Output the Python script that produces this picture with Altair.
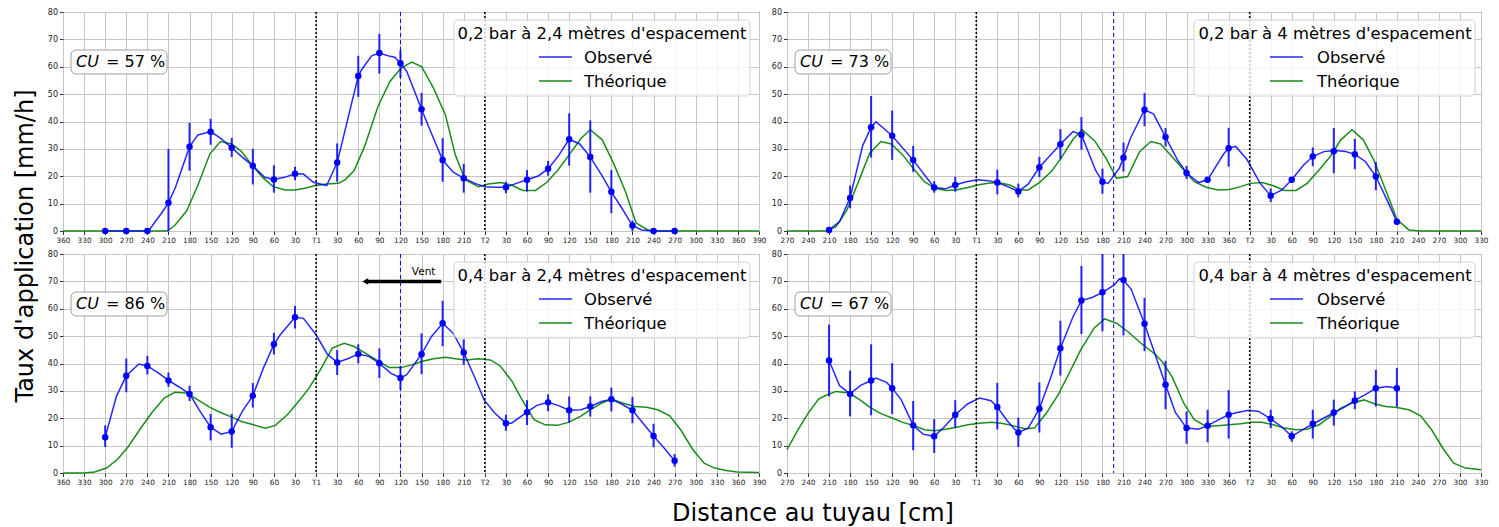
import altair as alt
import pandas as pd

# ---------------- tick labels ----------------
ticks_24 = ["360", "330", "300", "270", "240", "210", "180", "150", "120", "90", "60", "30", "T1",
            "30", "60", "90", "120", "150", "180", "210", "T2",
            "30", "60", "90", "120", "150", "180", "210", "240", "270", "300", "330", "360", "390"]
ticks_4 = ["270", "240", "210", "180", "150", "120", "90", "60", "30", "T1",
           "30", "60", "90", "120", "150", "180", "210", "240", "270", "300", "330", "360", "T2",
           "30", "60", "90", "120", "150", "180", "210", "240", "270", "300", "330"]
y_ticks = [0, 10, 20, 30, 40, 50, 60, 70, 80]

# ---------------- panel 1 : 0,2 bar à 2,4 m ----------------
p1_obs_x = [60, 90, 120, 123, 140, 150, 160, 180, 192, 210, 224, 240, 255, 270, 287, 300, 315, 330, 342, 356,
            375, 390, 420, 425, 439, 450, 465, 472, 480, 489, 510, 525, 540, 555, 570, 586, 600, 615, 630, 643,
            660, 676, 690, 704, 720, 735, 750, 766, 780, 795, 810, 823, 840, 870]
p1_obs_y = [0, 0, 0, 0.5, 6.5, 10.3, 16, 30.8, 35.1, 36.3, 33.9, 30.4, 27, 23.8, 19.6, 18.8, 19.6, 20.9, 20.8, 17.8,
            16.6, 25, 56.6, 59, 64, 65, 63.8, 63.5, 61.3, 58.3, 44.5, 35.1, 25.9, 21.5, 19.3, 17.4, 16.2, 16, 16, 17.2,
            18.7, 20.1, 22.7, 27.2, 33.5, 31.8, 27, 20.5, 14.3, 8.3, 2, 0.4, 0, 0]
p1_theo_x = [0, 148, 159, 176, 192, 209, 224, 240, 254, 269, 285, 299, 316, 330, 344, 359, 375, 392, 401, 414,
             429, 448, 465, 481, 496, 510, 527, 544, 558, 572, 591, 605, 623, 638, 654, 672, 688, 704, 720, 737,
             750, 767, 783, 800, 815, 832, 847, 990]
p1_theo_y = [0, 0, 2, 7.4, 16.8, 28.2, 32.7, 31.8, 29, 23.9, 19.3, 16.2, 15, 15, 15.6, 16.6, 17.2, 17.4, 18.7, 22,
             30.9, 45.5, 54.6, 59.5, 61.7, 60.1, 52.2, 42.4, 27.8, 18.7, 16.2, 17.2, 17.7, 16.8, 14.8, 14.8, 17.7,
             22.3, 27.8, 33.9, 37, 33.3, 24.8, 14.4, 3, 0.4, 0, 0]
p1_pt_x = [60, 90, 120, 150, 180, 210, 240, 270, 300, 330, 390, 420, 450, 480, 510, 540, 570, 630, 660, 690,
           720, 750, 780, 810, 840, 870]
p1_pt_y = [0, 0, 0, 10.3, 30.8, 36.3, 30.4, 23.8, 18.8, 20.9, 25, 56.6, 65, 61.3, 44.5, 25.9, 19.3, 16, 18.7, 22.7,
           33.5, 27, 14.3, 2, 0, 0]
p1_pt_lo = [0, 0, 0, 0, 22, 31.5, 27, 17, 14, 18.5, 18, 49, 57.5, 56, 38.5, 18, 14, 13.8, 14.4, 20.2,
            23.9, 14, 6.5, 0, 0, 0]
p1_pt_hi = [0, 0, 0, 30, 39.5, 41, 34, 30, 24, 23.5, 32, 64, 72, 66, 50.5, 33.9, 24.5, 18, 22.3, 25.6,
            43, 40.4, 22.3, 3.8, 0, 0]

# ---------------- panel 2 : 0,2 bar à 4 m ----------------
p2_obs_x = [60, 75, 90, 108, 120, 127, 150, 180, 210, 226, 240, 256, 272, 287, 300, 315, 330, 344, 360, 377,
            390, 408, 420, 440, 450, 458, 474, 480, 490, 510, 523, 540, 557, 570, 587, 600, 623, 630, 640, 656,
            675, 690, 706, 720, 737, 750, 766, 781, 797, 810, 825, 840, 856, 870]
p2_obs_y = [0.4, 3.4, 12.1, 31.2, 37.9, 39.9, 34.8, 25.9, 15.9, 15.4, 16.8, 18, 18.7, 18.4, 17.7, 16.2, 14.4, 17.1,
            23.3, 28, 31.7, 36.3, 35.2, 22.3, 18, 17.4, 22.9, 26.8, 33.9, 44.3, 42.7, 34.3, 26, 21.2, 17.7, 18.7,
            28.2, 30.2, 30.9, 26.2, 17.4, 12.9, 15, 18.7, 24.1, 27.2, 29, 29.4, 29, 28, 25.4, 19.9, 11.3, 3.4]
p2_theo_x = [0, 56, 70, 85, 101, 118, 134, 149, 165, 180, 196, 211, 227, 241, 258, 272, 287, 301, 318, 332,
             344, 360, 377, 391, 408, 421, 439, 455, 470, 486, 503, 519, 533, 549, 566, 581, 598, 615, 631, 647,
             661, 678, 694, 710, 726, 742, 759, 775, 790, 806, 822, 837, 854, 870, 887, 904, 990]
p2_theo_y = [0, 0, 1.6, 7.4, 17.4, 28.4, 32.7, 31.8, 27.8, 22.9, 18, 15.6, 14.8, 15, 15.9, 16.8, 17.4, 17.7, 16.8,
             15, 15, 17.7, 21.7, 26.6, 33.5, 37, 32.9, 26.6, 19.3, 19.9, 29, 32.7, 31.8, 27.2, 22.3, 18, 16, 15,
             15.2, 16.2, 17.4, 17.7, 16.5, 14.8, 14.8, 17.4, 22.3, 27.2, 33.3, 37, 33.3, 26, 15, 4.3, 0.4, 0, 0]
p2_pt_x = [60, 90, 120, 150, 180, 210, 240, 300, 330, 360, 390, 420, 450, 480, 510, 540, 570, 600, 630, 690,
           720, 750, 780, 810, 840, 870]
p2_pt_y = [0.4, 12.1, 37.9, 34.8, 25.9, 15.9, 16.8, 17.7, 14.4, 23.3, 31.7, 35.2, 18, 26.8, 44.3, 34.3, 21.2,
           18.7, 30.2, 12.9, 18.7, 27.2, 29.1, 28, 19.9, 3.4]
p2_pt_lo = [0, 8.3, 26.8, 26, 21.6, 14, 14.4, 13.4, 12.3, 19.7, 26.3, 29.7, 13.6, 21.7, 38.3, 30.9, 19, 17.8,
            23.5, 10.6, 17.8, 23.7, 21.1, 22.6, 14.9, 2.4]
p2_pt_hi = [1, 16.6, 49.3, 44, 31.1, 18.2, 19.8, 22.4, 17.3, 27.1, 37.2, 41.6, 22.8, 32.3, 50.4, 37.6, 23.8, 19.4,
            37.7, 15.5, 19.6, 30.5, 37.6, 33.6, 25.2, 4.5]

# ---------------- panel 3 : 0,4 bar à 2,4 m ----------------
p3_obs_x = [60, 76, 90, 108, 120, 136, 150, 164, 180, 195, 210, 225, 240, 255, 270, 285, 300, 309, 330, 342,
            360, 376, 390, 407, 420, 435, 450, 466, 480, 489, 510, 524, 540, 555, 570, 586, 599, 614, 630, 638,
            660, 674, 690, 704, 720, 737, 750, 766, 780, 794, 810, 825, 840, 855, 870]
p3_obs_y = [13.1, 28, 35.5, 39.8, 39.1, 36.5, 33.8, 31.6, 28.9, 22.5, 16.7, 14.2, 15.2, 22.5, 28.2, 38.3, 47, 50.5,
            56.9, 56.5, 50.5, 43.4, 40.4, 41.9, 43.5, 42.6, 40.1, 36.5, 34.7, 35.9, 43.4, 49.8, 54.7, 51.1, 44,
            34.7, 26.7, 21.9, 18.2, 18.2, 22.2, 24.7, 25.8, 24.7, 22.9, 23.1, 24.3, 26.1, 26.9, 25.3, 22.9, 18.2,
            13.5, 9.1, 4.5]
p3_theo_x = [0, 30, 45, 62, 78, 93, 109, 126, 144, 159, 176, 193, 209, 224, 240, 254, 271, 288, 302, 319,
             333, 350, 366, 383, 400, 414, 430, 447, 464, 481, 496, 510, 527, 544, 558, 574, 591, 608, 622, 639,
             653, 670, 686, 703, 719, 736, 750, 766, 780, 797, 813, 830, 846, 863, 879, 896, 912, 927, 943, 959, 990]
p3_theo_y = [0, 0, 0.4, 1.8, 5.1, 9.7, 15.8, 21.9, 27.4, 29.5, 29.2, 26.5, 24, 22.1, 20.4, 18.8, 17.6, 16.4, 17.4,
             21.3, 25.5, 31, 37.7, 45.6, 47.4, 46.2, 43.8, 41.1, 38.5, 38.5, 39.5, 40.7, 41.7, 42.3, 41.7, 41.3,
             41.7, 41.3, 39.1, 33.4, 26.7, 19.5, 17.6, 17.4, 18.5, 20.7, 23.1, 25.5, 27, 25.5, 24.3, 24, 23.1,
             20.9, 15.6, 8.5, 3.6, 1.8, 0.9, 0.4, 0.2]
p3_pt_x = [60, 90, 120, 150, 180, 210, 240, 270, 300, 330, 390, 420, 450, 480, 510, 540, 570, 630, 660, 690,
           720, 750, 780, 810, 840, 870]
p3_pt_y = [13.1, 35.5, 39.1, 33.8, 28.9, 16.7, 15.2, 28.2, 47, 56.9, 40.4, 43.5, 40.1, 34.7, 43.4, 54.7, 44, 18.2,
           22.2, 25.8, 22.9, 24.3, 26.9, 22.9, 13.5, 4.5]
p3_pt_lo = [9.5, 29.5, 36, 31.5, 26.3, 11.9, 9.2, 23.9, 43.3, 52.8, 35.8, 40, 34.7, 30.4, 36.1, 46.3, 39.5, 15.4,
            17.5, 22.6, 18.4, 20.6, 22.5, 18.2, 9.4, 2.3]
p3_pt_hi = [17.4, 41.8, 42.8, 36.7, 31.9, 21.6, 21.6, 32.9, 51.2, 61, 44.9, 47, 45.5, 39.1, 51, 62.9, 48.8, 21.3,
            26.6, 28.7, 28, 28, 31.2, 27.8, 18, 6.9]

# ---------------- panel 4 : 0,4 bar à 4 m ----------------
p4_obs_x = [60, 75, 90, 105, 120, 127, 142, 150, 163, 180, 194, 210, 225, 240, 258, 275, 291, 300, 315, 325,
            330, 344, 360, 375, 390, 408, 420, 436, 450, 467, 474, 480, 491, 510, 540, 554, 570, 587, 600, 616,
            630, 642, 659, 673, 690, 706, 720, 737, 751, 766, 781, 797, 810, 825, 840, 856, 870]
p4_obs_y = [41.1, 31.9, 28.9, 32, 33.8, 34.7, 33.1, 31, 26.7, 17.4, 14.2, 13.4, 17, 21.3, 25.3, 27.4, 26.4, 24.1,
            18.8, 16, 14.8, 16.4, 23.5, 34, 45.6, 57.1, 63, 64.2, 66, 68.7, 70.9, 70.5, 67.1, 54.5, 32.2, 22.1,
            16.4, 16, 17.3, 19.5, 21.3, 22.1, 22.9, 22.5, 19.8, 16.8, 13.4, 16, 18, 20.1, 22.1, 24.3, 26.5, 28.6,
            31, 31.6, 31]
p4_theo_x = [0, 15, 30, 45, 55, 70, 89, 104, 120, 135, 150, 165, 180, 196, 211, 226, 242, 258, 275, 291,
             306, 322, 339, 353, 370, 387, 403, 419, 438, 453, 470, 486, 505, 526, 535, 549, 566, 581, 598, 614,
             631, 647, 663, 677, 694, 709, 726, 742, 759, 775, 790, 806, 823, 839, 854, 870, 887, 904, 920, 937,
             951, 968, 990]
p4_theo_y = [8.5, 15.5, 21.8, 27, 28.3, 29.8, 29.2, 26.7, 23.7, 21.6, 20.1, 18.5, 17.4, 15.8, 15.4, 16, 16.7, 17.6,
             18.2, 18.5, 18.2, 17.3, 16.2, 16.4, 21.9, 28.6, 36.7, 45, 52.9, 56.3, 54.7, 51.7, 47.4, 43.2, 40.7,
             35.3, 25.5, 19.5, 17, 17.3, 17.6, 18, 18.5, 18.5, 17.6, 16.4, 15.8, 16, 17.6, 20.7, 23.7, 25.5, 26.7,
             25.2, 24.3, 23.9, 23.1, 20.9, 15.6, 8.5, 3.6, 1.8, 1.2]
p4_pt_x = [60, 90, 120, 150, 180, 210, 240, 300, 330, 360, 390, 420, 450, 480, 510, 540, 570, 600, 630, 690,
           720, 750, 780, 810, 840, 870]
p4_pt_y = [41.1, 28.9, 33.8, 31, 17.4, 13.4, 21.3, 24.1, 14.8, 23.5, 45.6, 63, 66, 70.5, 54.5, 32.2, 16.4, 17.3,
           21.3, 19.8, 13.4, 18, 22.1, 26.5, 31, 31]
p4_pt_lo = [28, 20.7, 21.1, 21.6, 8.3, 7.3, 16.5, 15.9, 9.5, 14.8, 35.6, 50.8, 51.8, 50.3, 44.5, 23.3, 10.7, 11.2,
            12.6, 16.4, 11.4, 12.6, 17.3, 23.3, 24.3, 24.2]
p4_pt_hi = [54.2, 37.4, 47, 40.1, 26.3, 19.7, 26.6, 32.9, 20.2, 33.1, 55.6, 75.6, 80, 80, 64, 41, 22.5, 23.1,
            30.3, 23.1, 15.2, 23.1, 26.8, 29.8, 37.7, 38.4]

# ---------------- panel annotations ----------------
titles = ["0,2 bar à 2,4 mètres d'espacement", "0,2 bar à 4 mètres d'espacement",
          "0,4 bar à 2,4 mètres d'espacement", "0,4 bar à 4 mètres d'espacement"]
cu_values = ["57", "73", "86", "67"]
t_lines_24 = [360, 600]
t_lines_4 = [270, 660]
mid_24 = 480
mid_4 = 466
legend_labels = ["Observé", "Théorique"]
vent_label = "Vent"
vent_x = [430, 538]
vent_y = 70

BLUE = "#0000ff"
GREEN = "#008000"
FONT = "DejaVu Sans"
tick_pos = list(range(0, 991, 30))


def xaxis(ticks):
    expr = "[" + ",".join("'" + t + "'" for t in ticks) + "][round(datum.value/30)]"
    return alt.Axis(values=tick_pos, labelExpr=expr, labelFontSize=7.3, labelOverlap=False,
                    labelFlush=False, labelPadding=1.5, tickSize=3.5, grid=True, domain=False,
                    labelAngle=0)


yaxis = alt.Axis(values=y_ticks, labelFontSize=8, labelOverlap=False, labelFlush=False,
                 labelPadding=2, tickSize=3.5, grid=True, domain=False)
xs = alt.Scale(domain=[0, 990], nice=False, zero=False)
ys = alt.Scale(domain=[0, 80], nice=False, zero=True)
one = pd.DataFrame({"k": [0]})


def panel(obs_x, obs_y, theo_x, theo_y, px, py, plo, phi, ticks, t_lines, mid_x, cu, title,
          width, lg, extra=None):
    xa = xaxis(ticks)

    def X(f="x"):
        return alt.X(f + ":Q", scale=xs, axis=xa, title=None)

    def Y(f="y"):
        return alt.Y(f + ":Q", scale=ys, axis=yaxis, title=None)

    theo = alt.Chart(pd.DataFrame({"x": theo_x, "y": theo_y})).mark_line(
        color=GREEN, strokeWidth=1.5, opacity=0.9).encode(x=X(), y=Y())
    obs = alt.Chart(pd.DataFrame({"x": obs_x, "y": obs_y})).mark_line(
        color=BLUE, strokeWidth=1.5, opacity=0.85).encode(x=X(), y=Y())
    tl = alt.Chart(pd.DataFrame({"x": t_lines})).mark_rule(
        color="black", strokeDash=[2, 2], strokeWidth=1.5).encode(x=X())
    ml = alt.Chart(pd.DataFrame({"x": [mid_x]})).mark_rule(
        color=BLUE, strokeDash=[4, 3], strokeWidth=1).encode(x=X())
    pts = pd.DataFrame({"x": px, "y": py, "lo": plo, "hi": phi})
    err = alt.Chart(pts).mark_rule(color=BLUE, strokeWidth=2, opacity=0.85, clip=True).encode(
        x=X(), y=Y("lo"), y2=alt.Y2("hi:Q"))
    dots = alt.Chart(pts).mark_circle(color=BLUE, size=42, opacity=1).encode(x=X(), y=Y())

    cu_box = alt.Chart(one).mark_rect(fill="white", fillOpacity=0.85, stroke="#a0a0a0",
                                      strokeWidth=1, cornerRadius=5).encode(
        x=alt.value(8), x2=alt.value(104), y=alt.value(38), y2=alt.value(62))
    cu_a = alt.Chart(one).mark_text(text="CU", font=FONT, fontStyle="italic", fontSize=16,
                                    align="left", baseline="alphabetic", color="black").encode(
        x=alt.value(13), y=alt.value(55))
    cu_b = alt.Chart(one).mark_text(text="= " + cu + " %", font=FONT, fontSize=16,
                                    align="left", baseline="alphabetic", color="black").encode(
        x=alt.value(43), y=alt.value(55))

    lg_box = alt.Chart(one).mark_rect(fill="white", fillOpacity=0.8, stroke="#d0d0d0",
                                      strokeWidth=1, cornerRadius=4).encode(
        x=alt.value(lg["x0"]), x2=alt.value(lg["x1"]), y=alt.value(8), y2=alt.value(84))
    lg_title = alt.Chart(one).mark_text(text=title, font=FONT, fontSize=16.4, align="center",
                                        baseline="alphabetic", color="black").encode(
        x=alt.value(lg["tc"]), y=alt.value(27))
    lg_l1 = alt.Chart(one).mark_rule(color=BLUE, strokeWidth=1.5, opacity=0.85).encode(
        x=alt.value(lg["l0"]), x2=alt.value(lg["l1"]), y=alt.value(45))
    lg_t1 = alt.Chart(one).mark_text(text=legend_labels[0], font=FONT, fontSize=16.4, align="left",
                                     baseline="alphabetic", color="black").encode(
        x=alt.value(lg["lab"]), y=alt.value(50.5))
    lg_l2 = alt.Chart(one).mark_rule(color=GREEN, strokeWidth=1.5, opacity=0.9).encode(
        x=alt.value(lg["l0"]), x2=alt.value(lg["l1"]), y=alt.value(69))
    lg_t2 = alt.Chart(one).mark_text(text=legend_labels[1], font=FONT, fontSize=16.4, align="left",
                                     baseline="alphabetic", color="black").encode(
        x=alt.value(lg["lab"]), y=alt.value(74.5))

    layers = [theo, obs, tl, ml, err, dots, cu_box, cu_a, cu_b,
              lg_box, lg_title, lg_l1, lg_t1, lg_l2, lg_t2]
    if extra:
        layers += extra(X, Y)
    return alt.layer(*layers).properties(width=width, height=219)


lg_left = {"x0": 391, "x1": 687, "tc": 539, "l0": 476, "l1": 509, "lab": 521}
lg_right = {"x0": 407, "x1": 688, "tc": 548, "l0": 483, "l1": 516, "lab": 530}


def ylabel_extra(X, Y):
    return [alt.Chart(one).mark_text(text="Taux d'application [mm/h]", font=FONT, fontSize=24,
                                     angle=270, align="center", baseline="alphabetic",
                                     color="black").encode(x=alt.value(-30), y=alt.value(234))]


def bl_extra(X, Y):
    arrow_df = pd.DataFrame({"x": [vent_x[0]], "x2": [vent_x[1]], "y": [vent_y]})
    shaft = alt.Chart(arrow_df).mark_rule(color="black", strokeWidth=3.5).encode(
        x=X(), x2=alt.X2("x2:Q"), y=Y())
    head = alt.Chart(arrow_df).mark_point(shape="triangle-left", filled=True, color="black",
                                          size=45, opacity=1).encode(x=X(), y=Y())
    vent = alt.Chart(pd.DataFrame({"x": [513], "y": [72.3]})).mark_text(
        text=vent_label, font=FONT, fontSize=10.5, align="center", baseline="alphabetic",
        color="black").encode(x=X(), y=Y())
    xlabel = alt.Chart(one).mark_text(text="Distance au tuyau [cm]", font=FONT, fontSize=24,
                                      align="center", baseline="alphabetic", color="black").encode(
        x=alt.value(750), y=alt.value(267))
    return [shaft, head, vent, xlabel]


c1 = panel(p1_obs_x, p1_obs_y, p1_theo_x, p1_theo_y, p1_pt_x, p1_pt_y, p1_pt_lo, p1_pt_hi,
           ticks_24, t_lines_24, mid_24, cu_values[0], titles[0], 696, lg_left, ylabel_extra)
c2 = panel(p2_obs_x, p2_obs_y, p2_theo_x, p2_theo_y, p2_pt_x, p2_pt_y, p2_pt_lo, p2_pt_hi,
           ticks_4, t_lines_4, mid_4, cu_values[1], titles[1], 694, lg_right)
c3 = panel(p3_obs_x, p3_obs_y, p3_theo_x, p3_theo_y, p3_pt_x, p3_pt_y, p3_pt_lo, p3_pt_hi,
           ticks_24, t_lines_24, mid_24, cu_values[2], titles[2], 696, lg_left, bl_extra)
c4 = panel(p4_obs_x, p4_obs_y, p4_theo_x, p4_theo_y, p4_pt_x, p4_pt_y, p4_pt_lo, p4_pt_hi,
           ticks_4, t_lines_4, mid_4, cu_values[3], titles[3], 694, lg_right)

chart = alt.concat(c1, c2, c3, c4, columns=2, spacing={"row": 23, "column": 28}, bounds="flush",
                   padding={"left": 13, "top": 7, "right": 5, "bottom": 0}
                   ).configure(font=FONT, background="white"
                   ).configure_axis(gridColor="#c6c6c6", gridWidth=1, tickColor="#333333",
                                    labelColor="#222222", labelFont=FONT
                   ).configure_view(stroke="#333333", strokeWidth=1)

chart.save("out.html", embed_options={"renderer": "svg", "actions": False})
